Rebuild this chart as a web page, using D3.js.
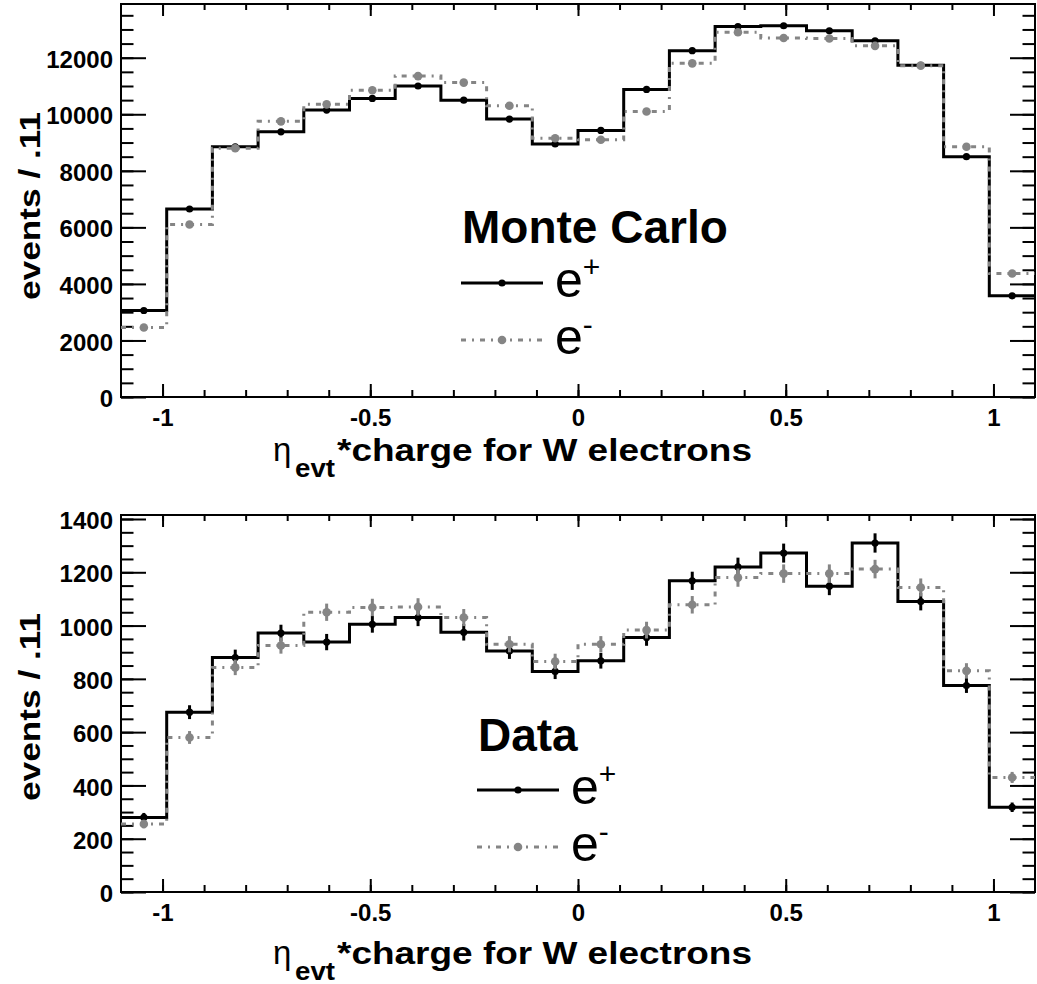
<!DOCTYPE html>
<html>
<head>
<meta charset="utf-8">
<script src="https://cdn.jsdelivr.net/npm/d3@7"></script>
<style>
  body { margin: 0; background: #fff; }
  svg text { font-family: "Liberation Sans", Arial, Helvetica, sans-serif; }
</style>
</head>
<body>
<div id="chart"></div>
<script>
// bins of eta*charge (width .11)
const binCenters = [-1.045, -0.935, -0.825, -0.715, -0.605, -0.495, -0.385, -0.275, -0.165, -0.055,
                    0.055, 0.165, 0.275, 0.385, 0.495, 0.605, 0.715, 0.825, 0.935, 1.045];
const binWidth = 0.11;

// Monte Carlo histograms
const mcPositive = [3060, 6650, 8850, 9380, 10150, 10560, 11000, 10500, 9830, 8950,
                    9430, 10880, 12250, 13100, 13130, 12950, 12600, 11730, 8500, 3580];
const mcNegative = [2460, 6100, 8800, 9750, 10350, 10850, 11350, 11120, 10300, 9150,
                    9100, 10100, 11800, 12900, 12700, 12680, 12420, 11720, 8850, 4370];

// Data histograms
const dataPositive = [280, 675, 880, 972, 938, 1005, 1030, 975, 905, 828,
                      868, 955, 1168, 1220, 1272, 1148, 1310, 1090, 775, 318];
const dataNegative = [255, 580, 843, 925, 1050, 1068, 1070, 1030, 930, 865,
                      930, 983, 1078, 1180, 1195, 1195, 1212, 1143, 830, 430];

const xTicks = [-1, -0.5, 0, 0.5, 1];
const xTickLabels = ["-1", "-0.5", "0", "0.5", "1"];
const mcYTicks = [0, 2000, 4000, 6000, 8000, 10000, 12000];
const dataYTicks = [0, 200, 400, 600, 800, 1000, 1200, 1400];
const panelTitles = ["Monte Carlo", "Data"];
const seriesLabels = [["e", "+"], ["e", "-"]];

const width = 1037, height = 984;
const frameLeft = 121, frameRight = 1035;
const grey = "#858585";

const svg = d3.select("#chart").append("svg")
  .attr("width", width)
  .attr("height", height);

function drawPanel(p) {
  const x = d3.scaleLinear().domain([-1.1, 1.1]).range([frameLeft, frameRight]);
  const y = d3.scaleLinear().domain([0, p.yMax]).range([p.bottom, p.top]);
  const g = svg.append("g");

  const tidy = function (sel) {
    sel.select(".domain").remove();
    sel.selectAll("line").attr("stroke", "#000").attr("stroke-width", 2);
    sel.selectAll("text")
      .attr("font-size", 24)
      .attr("font-weight", "bold")
      .attr("font-family", "'Liberation Sans', Arial, sans-serif")
      .attr("fill", "#000");
  };

  const xMinor = d3.range(-10, 11).map(function (i) { return i / 10; });
  const yMinor = d3.range(0, p.yMax, p.yMinorStep);

  // left axis
  g.append("g").attr("transform", "translate(" + frameLeft + ",0)")
    .call(d3.axisLeft(y).tickValues(yMinor).tickSize(-12.5).tickFormat("")).call(tidy);
  g.append("g").attr("transform", "translate(" + frameLeft + ",0)")
    .call(d3.axisLeft(y).tickValues(p.yTicks).tickSize(-25).tickPadding(8).tickFormat(d3.format("d")))
    .call(tidy)
    .selectAll("text").attr("dy", "0.4em");

  // right axis (mirror)
  g.append("g").attr("transform", "translate(" + frameRight + ",0)")
    .call(d3.axisRight(y).tickValues(yMinor).tickSize(-12.5).tickFormat("")).call(tidy);
  g.append("g").attr("transform", "translate(" + frameRight + ",0)")
    .call(d3.axisRight(y).tickValues(p.yTicks).tickSize(-25).tickFormat("")).call(tidy);

  // bottom axis
  g.append("g").attr("transform", "translate(0," + p.bottom + ")")
    .call(d3.axisBottom(x).tickValues(xMinor).tickSize(-7).tickFormat("")).call(tidy);
  g.append("g").attr("transform", "translate(0," + p.bottom + ")")
    .call(d3.axisBottom(x).tickValues(xTicks).tickSize(-13).tickPadding(12)
      .tickFormat(function (d, i) { return xTickLabels[i]; }))
    .call(tidy);

  // top axis (mirror)
  g.append("g").attr("transform", "translate(0," + p.top + ")")
    .call(d3.axisTop(x).tickValues(xMinor).tickSize(-6).tickFormat("")).call(tidy);
  g.append("g").attr("transform", "translate(0," + p.top + ")")
    .call(d3.axisTop(x).tickValues(xTicks).tickSize(-12).tickFormat("")).call(tidy);

  // frame
  g.append("rect")
    .attr("x", frameLeft).attr("y", p.top)
    .attr("width", frameRight - frameLeft).attr("height", p.bottom - p.top)
    .attr("fill", "none").attr("stroke", "#000").attr("stroke-width", 2);

  const series = [
    { values: p.positive, color: "#000", dash: null, r: 3.6 },
    { values: p.negative, color: grey, dash: "5,6,2,6", r: 4.3 }
  ];

  const step = d3.line()
    .x(function (d) { return x(d[0]); })
    .y(function (d) { return y(d[1]); })
    .curve(d3.curveStepAfter);

  series.forEach(function (s) {
    const pts = s.values.map(function (v, i) { return [binCenters[i] - binWidth / 2, v]; });
    pts.push([binCenters[binCenters.length - 1] + binWidth / 2, s.values[s.values.length - 1]]);

    g.append("path")
      .attr("d", step(pts))
      .attr("fill", "none")
      .attr("stroke", s.color)
      .attr("stroke-width", 3)
      .attr("stroke-dasharray", s.dash);

    if (p.errors) {
      g.selectAll(null)
        .data(s.values)
        .enter()
        .append("line")
        .attr("x1", function (d, i) { return x(binCenters[i]); })
        .attr("x2", function (d, i) { return x(binCenters[i]); })
        .attr("y1", function (d) { return y(d - Math.sqrt(d)); })
        .attr("y2", function (d) { return y(d + Math.sqrt(d)); })
        .attr("stroke", s.color)
        .attr("stroke-width", 3);
    }

    g.selectAll(null)
      .data(s.values)
      .enter()
      .append("circle")
      .attr("cx", function (d, i) { return x(binCenters[i]); })
      .attr("cy", function (d) { return y(d); })
      .attr("r", s.r)
      .attr("fill", s.color);
  });

  // legend
  const L = p.legend;
  g.append("text")
    .attr("x", L.x + 1).attr("y", L.header)
    .attr("font-size", 46).attr("font-weight", "bold")
    .text(p.title);

  series.forEach(function (s, k) {
    const ry = L.rows[k];
    g.append("line")
      .attr("x1", L.x).attr("x2", L.x + 82)
      .attr("y1", ry).attr("y2", ry)
      .attr("stroke", s.color).attr("stroke-width", 3)
      .attr("stroke-dasharray", s.dash);
    g.append("circle")
      .attr("cx", L.x + 41).attr("cy", ry)
      .attr("r", s.r).attr("fill", s.color);
    const t = g.append("text")
      .attr("x", L.x + 94).attr("y", ry + 14)
      .attr("font-size", 50);
    t.append("tspan").text(seriesLabels[k][0]);
    t.append("tspan")
      .attr("font-size", 30)
      .attr("dy", k === 0 ? -20 : -19)
      .text(seriesLabels[k][1]);
  });

  // y title
  g.append("text")
    .attr("transform", "translate(40," + p.yTitleCenter + ") rotate(-90)")
    .attr("text-anchor", "middle")
    .attr("font-size", 30).attr("font-weight", "bold")
    .attr("textLength", 188).attr("lengthAdjust", "spacingAndGlyphs")
    .text("events / .11");

  // x title
  const tb = p.xTitleBase;
  g.append("text")
    .attr("x", 273).attr("y", tb)
    .attr("font-size", 33)
    .attr("font-family", "'DejaVu Sans', sans-serif")
    .text("η");
  g.append("text")
    .attr("x", 295).attr("y", tb + 16)
    .attr("font-size", 25).attr("font-weight", "bold")
    .attr("textLength", 40).attr("lengthAdjust", "spacingAndGlyphs")
    .text("evt");
  g.append("text")
    .attr("x", 337).attr("y", tb)
    .attr("font-size", 31).attr("font-weight", "bold")
    .attr("textLength", 415).attr("lengthAdjust", "spacingAndGlyphs")
    .text("*charge for W electrons");
}

drawPanel({
  top: 4, bottom: 397, yMax: 13900, yTicks: mcYTicks, yMinorStep: 500,
  positive: mcPositive, negative: mcNegative, errors: false,
  title: panelTitles[0],
  legend: { x: 461, header: 243, rows: [283, 340] },
  yTitleCenter: 206, xTitleBase: 461
});

drawPanel({
  top: 515, bottom: 892, yMax: 1415, yTicks: dataYTicks, yMinorStep: 50,
  positive: dataPositive, negative: dataNegative, errors: true,
  title: panelTitles[1],
  legend: { x: 477, header: 751, rows: [790, 847] },
  yTitleCenter: 707, xTitleBase: 964
});
</script>
</body>
</html>
